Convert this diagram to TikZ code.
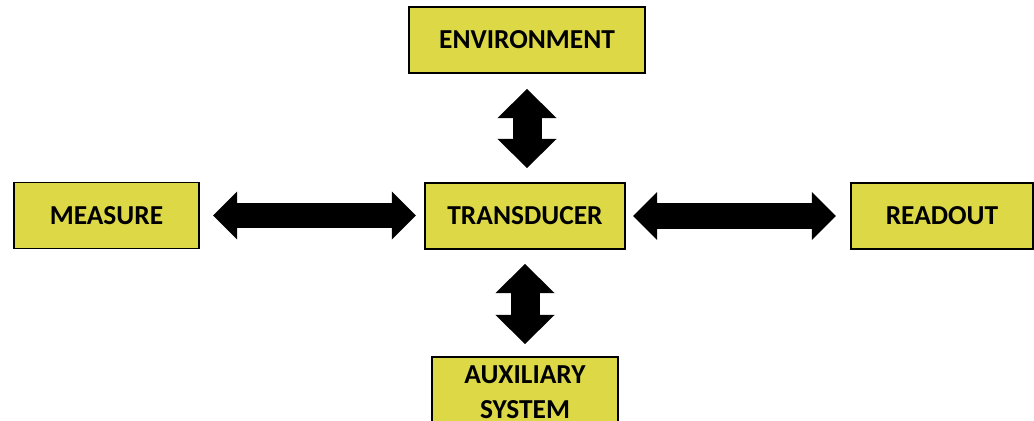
\documentclass[tikz,border=0pt]{standalone}
\usepackage{fontspec}
\setmainfont{Carlito}
\usetikzlibrary{arrows.meta}
\definecolor{boxyellow}{RGB}{221,217,70}
\tikzset{
	block/.style={draw=black, line width=1.4pt, fill=boxyellow, inner sep=0pt,
		minimum height=1.65cm, align=center, font=\fontsize{19.5}{25}\selectfont\bfseries},
	harrow/.style={line width=0.625cm,
		{Triangle[length=0.6cm, width=1.2cm, line width'=0pt]}-{Triangle[length=0.6cm, width=1.2cm, line width'=0pt]}},
	varrow/.style={line width=0.725cm,
		{Triangle[length=0.725cm, width=1.475cm, line width'=0pt]}-{Triangle[length=0.725cm, width=1.475cm, line width'=0pt]}}
}
\begin{document}
\begin{tikzpicture}[x=0.025cm, y=-0.025cm]
	\useasboundingbox (0,0) rectangle (1034,421);
	
	%% boxes
	\node[block, minimum width=5.9cm] (environment) at (527,40) {ENVIRONMENT};
	\node[block, minimum width=5cm] (transducer) at (525,216) {TRANSDUCER};
	\node[block, minimum width=4.625cm] (measure) at (106.5,215.5) {MEASURE};
	\node[block, minimum width=4.55cm] (readout) at (942,216) {READOUT};
	\node[block, minimum width=4.65cm, minimum height=1.75cm] (auxiliary) at (525,392) {AUXILIARY\\SYSTEM};
	
	%% arrows
	\draw[harrow, shorten <=0.325cm, shorten >=0.2cm] (measure.east) -- (measure.east -| transducer.west);
	\draw[harrow, shorten <=0.175cm, shorten >=0.35cm] (transducer.east) -- (transducer.east -| readout.west);
	\draw[varrow, shorten <=0.375cm, shorten >=0.35cm] (environment.south) -- (environment.south |- transducer.north);
	\draw[varrow, shorten <=0.35cm, shorten >=0.3cm] (transducer.south) -- (transducer.south |- auxiliary.north);
\end{tikzpicture}
\end{document}
